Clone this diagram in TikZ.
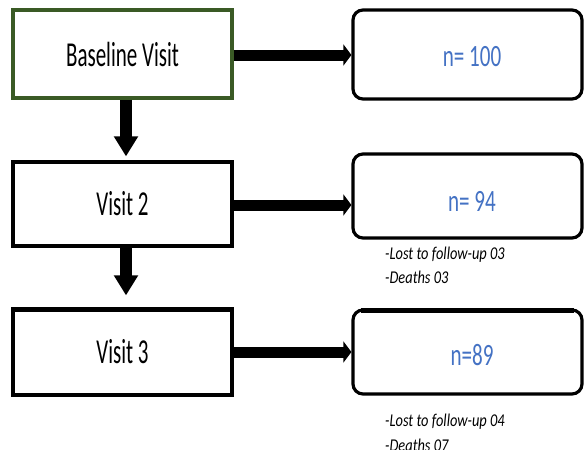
\documentclass[tikz,border=0pt]{standalone}
\usepackage{fontspec}
\usetikzlibrary{arrows.meta}
\newfontfamily\boxfont[FakeStretch=0.60]{Carlito}
\newfontfamily\numfont[FakeStretch=0.68]{Carlito}
\newfontfamily\notefont[FakeStretch=0.80]{Carlito}
\definecolor{boxgreen}{HTML}{3A5A25}
\definecolor{numblue}{HTML}{4472C4}
\tikzset{
  visitbox/.style={draw=black, line width=3.2pt, fill=white, minimum width=219pt, inner sep=0pt,
    font=\boxfont\fontsize{35}{35}\selectfont},
  countbox/.style={draw=black, line width=3.2pt, rounded corners=10pt, fill=white, minimum width=229pt, inner sep=0pt},
  numtext/.style={inner sep=0pt, text=numblue, font=\numfont\fontsize{31}{31}\selectfont},
  notetext/.style={anchor=west, inner sep=0pt, font=\notefont\itshape\fontsize{18}{18}\selectfont},
  harrow/.style={line width=11pt, -{Triangle[width=21pt,length=8pt]}},
  varrow/.style={line width=12pt, -{Triangle[width=23pt,length=20pt]}},
}
\begin{document}
\begin{tikzpicture}[x=1pt,y=-1pt]
\clip (0,0) rectangle (584,450);
\fill[white] (0,0) rectangle (584,450);
% left column
\node[visitbox, draw=boxgreen, minimum height=88pt] (b1) at (122.5,54) {Baseline Visit};
\node[visitbox, minimum height=84pt] (v2) at (122.5,204) {Visit 2};
\node[visitbox, minimum height=86pt] (v3) at (122.5,352) {Visit 3};
% right column
\node[countbox, minimum height=89pt] (n1) at (467.5,54.5) {};
\node[countbox, minimum height=84pt] (n2) at (467.5,196) {};
\node[countbox, minimum height=84pt] (n3) at (467.5,352) {};
\node[numtext] (t1) at (472,57) {n= 100};
\node[numtext] (t2) at (472,201) {n= 94};
\node[numtext] (t3) at (472,355) {n=89};
% thicker top edges of the third row
\draw[line width=4.5pt] ([yshift=-2pt]v3.north west) -- ([yshift=-2pt]v3.north east);
\draw[line width=4.5pt] ([xshift=10pt,yshift=-2pt]n3.north west) -- ([xshift=-10pt,yshift=-2pt]n3.north east);
% notes
\node[notetext] (l2) at (385,255) {-Lost to follow-up 03};
\node[notetext] (d2) at (385,277) {-Deaths 03};
\node[notetext] (l3) at (385,421.5) {-Lost to follow-up 04};
\node[notetext] (d3) at (385,445) {-Deaths 07};
% horizontal arrows
\draw[harrow] ([yshift=-1pt]b1.east) -- ([yshift=-1pt]b1.east -| n1.west);
\draw[harrow] ([yshift=-1pt]v2.east) -- ([yshift=-1pt]v2.east -| n2.west);
\draw[harrow] (v3.east) -- (v3.east -| n3.west);
% vertical arrows
\draw[varrow] ([xshift=3.5pt]b1.south) -- ([xshift=3.5pt, yshift=4pt]v2.north);
\draw[varrow] ([xshift=3.5pt]v2.south) -- ([xshift=3.5pt, yshift=12pt]v3.north);
\end{tikzpicture}
\end{document}
